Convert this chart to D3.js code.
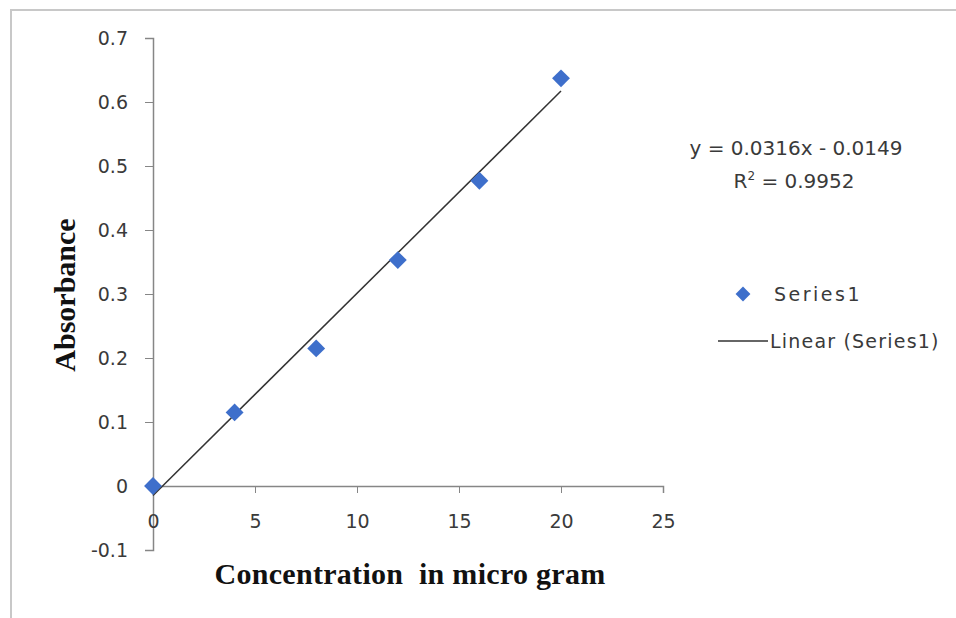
<!DOCTYPE html>
<html>
<head>
<meta charset="utf-8">
<script src="https://cdn.jsdelivr.net/npm/d3@7"></script>
<style>
  body { margin: 0; background: #fff; }
  .axis path, .axis line { stroke: #868686; }
  .axis text { font-family: "DejaVu Sans", sans-serif; font-size: 19px; fill: #3a3a3a; }
</style>
</head>
<body>
<div id="chart"></div>
<script>
// data
var concentration = [0, 4, 8, 12, 16, 20];
var absorbance = [0, 0.115, 0.215, 0.353, 0.477, 0.637];
var xTicks = [0, 5, 10, 15, 20, 25];
var yTicks = [-0.1, 0, 0.1, 0.2, 0.3, 0.4, 0.5, 0.6, 0.7];
var slope = 0.0316, intercept = -0.0149, rSquared = 0.9952;

var W = 956, H = 618;
var margin = { top: 38, left: 153 };
var width = 510, height = 512;

var svg = d3.select("#chart").append("svg")
    .attr("width", W)
    .attr("height", H);

// outer frame (only top/left edges visible)
svg.append("rect")
    .attr("x", 11).attr("y", 10)
    .attr("width", W).attr("height", H)
    .attr("fill", "none")
    .attr("stroke", "#c8c8c8")
    .attr("stroke-width", 2);

var g = svg.append("g")
    .attr("transform", "translate(" + margin.left + "," + margin.top + ")");

var x = d3.scaleLinear().domain([0, 25]).range([0, width]);
var y = d3.scaleLinear().domain([-0.1, 0.7]).range([height, 0]);

// y axis
var yAxis = d3.axisLeft(y)
    .tickValues(yTicks)
    .tickSize(8)
    .tickSizeOuter(8)
    .tickPadding(17)
    .tickFormat(function(d) { return String(+d.toFixed(1)); });
g.append("g").attr("class", "axis y-axis").call(yAxis);

// x axis sits at y = 0
var xAxis = d3.axisBottom(x)
    .tickValues(xTicks)
    .tickSize(7)
    .tickSizeOuter(7)
    .tickPadding(22);
g.append("g")
    .attr("class", "axis x-axis")
    .attr("transform", "translate(0," + y(0) + ")")
    .call(xAxis);

g.selectAll(".axis path").attr("stroke-width", 1.5);

// trendline
var xs = d3.extent(concentration);
g.append("line")
    .attr("x1", x(xs[0])).attr("y1", y(slope * xs[0] + intercept))
    .attr("x2", x(xs[1])).attr("y2", y(slope * xs[1] + intercept))
    .attr("stroke", "#333")
    .attr("stroke-width", 1.5);

// markers
var diamond = d3.symbol().type(d3.symbolSquare).size(160);
g.selectAll(".pt")
    .data(concentration)
    .enter().append("path")
    .attr("class", "pt")
    .attr("d", diamond)
    .attr("fill", "#3e6fcb")
    .attr("transform", function(d, i) {
        return "translate(" + x(d) + "," + y(absorbance[i]) + ") rotate(45)";
    });

// axis titles
svg.append("text")
    .attr("x", 410).attr("y", 584)
    .attr("text-anchor", "middle")
    .attr("font-family", "Liberation Serif, Times New Roman, serif")
    .attr("font-weight", "bold")
    .attr("font-size", 30)
    .attr("letter-spacing", 0.3)
    .attr("fill", "#111")
    .attr("xml:space", "preserve")
    .text("Concentration  in micro gram");

svg.append("text")
    .attr("transform", "translate(75,295) rotate(-90)")
    .attr("text-anchor", "middle")
    .attr("font-family", "Liberation Serif, Times New Roman, serif")
    .attr("font-weight", "bold")
    .attr("font-size", 30)
    .attr("fill", "#111")
    .text("Absorbance");

// equation
var eq = svg.append("g")
    .attr("font-family", "DejaVu Sans, sans-serif")
    .attr("font-size", 20)
    .attr("fill", "#3a3a3a");
eq.append("text")
    .attr("x", 796).attr("y", 155)
    .attr("text-anchor", "middle")
    .text("y = " + slope + "x - " + Math.abs(intercept));
var r2 = eq.append("text")
    .attr("x", 794).attr("y", 188)
    .attr("text-anchor", "middle");
r2.append("tspan").text("R");
r2.append("tspan").attr("font-size", 12).attr("dy", -8).text("2");
r2.append("tspan").attr("dy", 8).text(" = " + rSquared);

// legend
var leg = svg.append("g")
    .attr("font-family", "DejaVu Sans, sans-serif")
    .attr("font-size", 19)
    .attr("fill", "#3a3a3a");
leg.append("path")
    .attr("d", d3.symbol().type(d3.symbolSquare).size(110))
    .attr("fill", "#3e6fcb")
    .attr("transform", "translate(743,294) rotate(45)");
leg.append("text").attr("x", 774).attr("y", 301)
    .attr("letter-spacing", 2.5).text("Series1");
leg.append("line")
    .attr("x1", 718).attr("x2", 768)
    .attr("y1", 341).attr("y2", 341)
    .attr("stroke", "#333").attr("stroke-width", 1.5);
leg.append("text").attr("x", 770).attr("y", 348)
    .attr("letter-spacing", 1.2).text("Linear (Series1)");
</script>
</body>
</html>
